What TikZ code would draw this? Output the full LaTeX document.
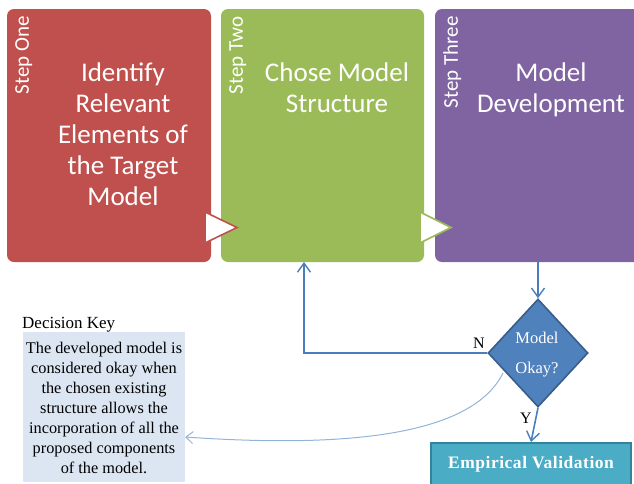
\documentclass[tikz,border=0pt]{standalone}
\usepackage{fontspec}
\setmainfont{Liberation Serif}
\newfontfamily\calfont{Carlito}
\usetikzlibrary{arrows.meta,shapes.geometric}
\definecolor{cred}{HTML}{C0504D}
\definecolor{cgreen}{HTML}{9BBB59}
\definecolor{cpurple}{HTML}{8064A2}
\definecolor{cblue}{HTML}{4A7EBB}
\definecolor{dfill}{HTML}{4F81BD}
\definecolor{dline}{HTML}{385D8A}
\definecolor{tfill}{HTML}{4BACC6}
\definecolor{tline}{HTML}{31849B}
\definecolor{keyfill}{HTML}{DCE6F2}
\definecolor{curveblue}{HTML}{95B3D7}
\tikzset{
  steplabel/.style={rotate=90, anchor=north east, inner sep=0pt, text=white, font=\calfont\fontsize{21}{24}\selectfont},
  maintext/.style={anchor=base, align=center, inner sep=0pt, text=white, font=\calfont\fontsize{27}{31}\selectfont},
  flow/.style={cblue, line width=1.6pt, -{Straight Barb[length=9pt,width=13pt,line width=1.4pt]}},
  tri/.style={fill=white, line width=1.6pt, line join=miter},
}
\begin{document}
\begin{tikzpicture}[x=1pt,y=-1pt]
\useasboundingbox (0,0) rectangle (634,483);
\clip (0,0) rectangle (634,483);
% boxes
\fill[cred, rounded corners=7pt] (7,9) rectangle (211,262);
\fill[cgreen, rounded corners=7pt] (221,9) rectangle (424,262);
\fill[cpurple, rounded corners=7pt] (435,9) rectangle (650,262);
\coordinate (greenbot) at (304,262);
\coordinate (purplebot) at (538,262);
% triangles
\draw[tri, draw=cred] (205,212) -- (237,227.5) -- (205,243) -- cycle;
\draw[tri, draw=cgreen] (420,212) -- (451,227.5) -- (420,243) -- cycle;
% step labels
\node[steplabel] (s1) at (15,16) {Step One};
\node[steplabel] (s2) at (229,16) {Step Two};
\node[steplabel] (s3) at (443,16) {Step Three};
% main texts (base = last line baseline)
\node[maintext] (t1) at (123,205) {Identify\\Relevant\\Elements of\\the Target\\Model};
\node[maintext] (t2) at (337,112) {Chose Model\\Structure};
\node[maintext] (t3) at (551,112) {Model\\Development};
% diamond
\node[diamond, draw=dline, fill=dfill, line width=1.6pt, minimum width=100pt, minimum height=108pt, inner sep=0pt] (dia) at (538,353) {};
\node[text=white, font=\fontsize{16.5}{30}\selectfont, align=center, anchor=base, inner sep=0pt] (dtext) at (537,373) {Model\\Okay?};
% empirical validation
\node[draw=tline, fill=tfill, line width=2pt, minimum width=200pt, minimum height=42pt, inner sep=0pt, text=white, font=\bfseries\fontsize{17.5}{20}\selectfont\addfontfeature{LetterSpace=3}] (ev) at (531,464) {Empirical Validation};
% key
\node[anchor=base west, inner sep=0pt, font=\fontsize{17}{19}\selectfont] (keylabel) at (22,328) {Decision Key};
\node[fill=keyfill, minimum width=162pt, minimum height=150pt, inner sep=0pt] (keybox) at (104,407) {};
\node[anchor=base, align=center, inner sep=0pt, font=\fontsize{16.3}{20}\selectfont] (keytext) at (104,473) {The developed model is\\considered okay when\\the chosen existing\\structure allows the\\incorporation of all the\\proposed components\\of the model.};
% connectors
\draw[flow] (purplebot) -- (dia.north);
\draw[flow] (dia.west) -- (greenbot |- dia.west) -- (greenbot);
\draw[flow] (dia.south) -- (ev.north);
\node[font=\fontsize{16}{19}\selectfont, anchor=base, inner sep=0pt] (nlab) at (479,348) {N};
\node[font=\fontsize{16}{19}\selectfont, anchor=base, inner sep=0pt] (ylab) at (526,423) {Y};
\coordinate (cstart) at (503,373);
\draw[curveblue, line width=1pt, -{Straight Barb[length=7pt,width=12pt,line width=1pt]}] (cstart) .. controls (470,440) and (330,447) .. (keybox.east |- 0,437);
\end{tikzpicture}
\end{document}
